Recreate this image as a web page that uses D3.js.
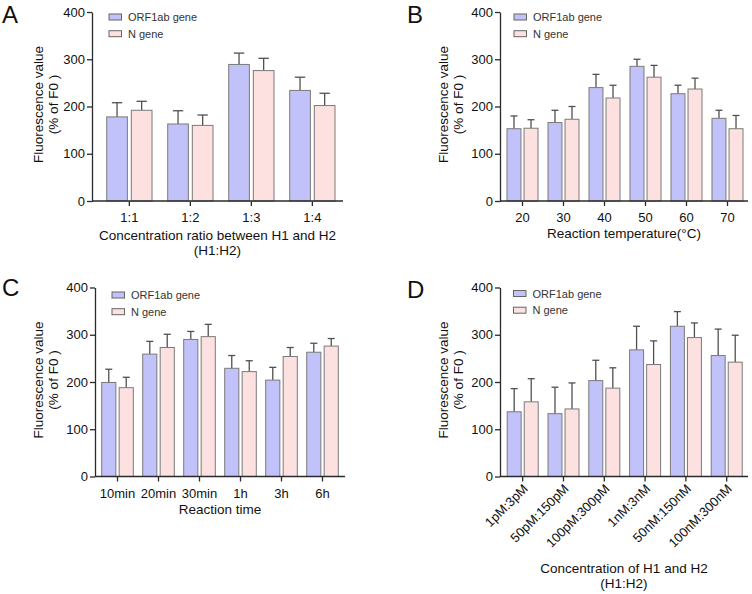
<!DOCTYPE html>
<html>
<head>
<meta charset="utf-8">
<script src="https://cdn.jsdelivr.net/npm/d3@7"></script>
<style>
  html, body { margin: 0; padding: 0; background: #fff; }
  svg { display: block; font-family: "Liberation Sans", Arial, sans-serif; }
  .axis path, .axis line { stroke: #2a2a2a; stroke-width: 1.3; }
  .axis text { font-size: 13px; fill: #111; }
  .title { font-size: 13.5px; fill: #111; }
  .legend text { font-size: 11px; fill: #333; }
  .panel-letter { font-size: 24px; fill: #111; }
</style>
</head>
<body>
<div id="chart"></div>
<script>
// series names / colours
const seriesNames = ["ORF1ab gene", "N gene"];
const seriesColors = ["#c2c2fa", "#fde1e1"];

// A - concentration ratio
const catsA = ["1:1", "1:2", "1:3", "1:4"];
const orfA = [178, 163, 289, 234];
const orfErrA = [30, 28, 24, 28];
const nA = [192, 160, 276, 202];
const nErrA = [19, 22, 26, 26];

// B - reaction temperature
const catsB = ["20", "30", "40", "50", "60", "70"];
const orfB = [153, 166, 240, 285, 227, 175];
const orfErrB = [27, 26, 28, 15, 18, 17];
const nB = [154, 173, 218, 262, 237, 153];
const nErrB = [18, 27, 27, 25, 23, 28];

// C - reaction time
const catsC = ["10min", "20min", "30min", "1h", "3h", "6h"];
const orfC = [199, 259, 290, 229, 204, 263];
const orfErrC = [28, 27, 17, 27, 27, 19];
const nC = [188, 273, 296, 222, 254, 276];
const nErrC = [22, 28, 26, 23, 19, 16];

// D - concentration of H1 and H2
const catsD = ["1pM:3pM", "50pM:150pM", "100pM:300pM", "1nM:3nM", "50nM:150nM", "100nM:300nM"];
const orfD = [137, 133, 203, 268, 318, 256];
const orfErrD = [49, 56, 43, 50, 31, 56];
const nD = [158, 143, 187, 237, 294, 242];
const nErrD = [49, 55, 43, 50, 31, 57];

const yTicks = [0, 100, 200, 300, 400];

const svg = d3.select("#chart").append("svg")
  .attr("width", 752)
  .attr("height", 594);

function drawPanel(cfg, cats, orf, orfErr, n, nErr) {
  const g = svg.append("g");

  const y = d3.scaleLinear().domain([0, 400]).range([cfg.yBot, cfg.yTop]);

  const x = d3.scaleBand()
    .domain(cats)
    .range([cfg.first, cfg.first + cfg.step * (cats.length - 1) + cfg.gw])
    .paddingInner(1 - cfg.gw / cfg.step)
    .paddingOuter(0);

  const xs = d3.scaleBand()
    .domain(seriesNames)
    .range([0, x.bandwidth()])
    .paddingInner(cfg.innerPad);

  const rows = cats.map((c, i) => ({
    cat: c,
    vals: [
      { s: seriesNames[0], v: orf[i], e: orfErr[i], c: seriesColors[0] },
      { s: seriesNames[1], v: n[i], e: nErr[i], c: seriesColors[1] }
    ]
  }));

  const grp = g.selectAll(".grp").data(rows).enter().append("g")
    .attr("transform", d => `translate(${x(d.cat)},0)`);

  const capW = xs.bandwidth() * 0.5;

  // error bars (upper only)
  grp.selectAll(".err").data(d => d.vals).enter().append("line")
    .attr("x1", d => xs(d.s) + xs.bandwidth() / 2)
    .attr("x2", d => xs(d.s) + xs.bandwidth() / 2)
    .attr("y1", d => y(d.v))
    .attr("y2", d => y(d.v + d.e))
    .attr("stroke", "#505050")
    .attr("stroke-width", 1.3);

  grp.selectAll(".cap").data(d => d.vals).enter().append("line")
    .attr("x1", d => xs(d.s) + xs.bandwidth() / 2 - capW / 2)
    .attr("x2", d => xs(d.s) + xs.bandwidth() / 2 + capW / 2)
    .attr("y1", d => y(d.v + d.e))
    .attr("y2", d => y(d.v + d.e))
    .attr("stroke", "#505050")
    .attr("stroke-width", 1.3);

  grp.selectAll("rect").data(d => d.vals).enter().append("rect")
    .attr("x", d => xs(d.s))
    .attr("width", xs.bandwidth())
    .attr("y", d => y(d.v))
    .attr("height", d => y(0) - y(d.v))
    .attr("fill", d => d.c)
    .attr("stroke", "#7a7a7a")
    .attr("stroke-width", 1);

  // y axis
  g.append("g")
    .attr("class", "axis")
    .attr("transform", `translate(${cfg.x0},0)`)
    .call(d3.axisLeft(y).tickValues(yTicks).tickSize(5).tickSizeOuter(0).tickPadding(2));

  // x axis
  const xa = g.append("g")
    .attr("class", "axis")
    .attr("transform", `translate(0,${cfg.yBot})`)
    .call(d3.axisBottom(x).tickSize(5).tickPadding(7));
  xa.select(".domain").remove();
  xa.append("line")
    .attr("x1", cfg.x0).attr("x2", cfg.x1)
    .attr("y1", 0).attr("y2", 0);

  if (cfg.rotate) {
    xa.selectAll(".tick text")
      .attr("text-anchor", "end")
      .attr("dy", null)
      .attr("x", 0)
      .attr("y", 0)
      .attr("transform", "translate(6,13) rotate(-45)");
  }

  // axis titles
  cfg.xTitle.forEach((t, i) => {
    g.append("text").attr("class", "title")
      .attr("x", (cfg.x0 + cfg.x1) / 2)
      .attr("y", cfg.xTitleY + i * 14.5)
      .attr("text-anchor", "middle")
      .text(t);
  });

  const yMid = (cfg.yTop + cfg.yBot) / 2 - 2;
  ["Fluorescence value", "(% of F0 )"].forEach((t, i) => {
    g.append("text").attr("class", "title")
      .attr("transform", `translate(${cfg.yTitleX + i * 15},${yMid}) rotate(-90)`)
      .attr("text-anchor", "middle")
      .text(t);
  });

  // legend
  const lg = g.append("g").attr("class", "legend");
  seriesNames.forEach((s, i) => {
    const ly = cfg.legY + i * 16.7;
    lg.append("rect")
      .attr("x", cfg.legX).attr("y", ly)
      .attr("width", 12.5).attr("height", 6)
      .attr("fill", seriesColors[i])
      .attr("stroke", "#666").attr("stroke-width", 1);
    lg.append("text")
      .attr("x", cfg.legX + 19).attr("y", ly + 7)
      .text(s);
  });

  g.append("text").attr("class", "panel-letter")
    .attr("x", cfg.letterX).attr("y", cfg.letterY)
    .text(cfg.letter);
}

drawPanel({
  letter: "A", letterX: 2, letterY: 23,
  x0: 92, x1: 343, yTop: 12, yBot: 201,
  first: 106.7, step: 61, gw: 45.3, innerPad: 0.16,
  xTitle: ["Concentration ratio between H1 and H2", "(H1:H2)"], xTitleY: 240,
  yTitleX: 43.3, legX: 109, legY: 14
}, catsA, orfA, orfErrA, nA, nErrA);

drawPanel({
  letter: "B", letterX: 407, letterY: 23,
  x0: 500, x1: 748, yTop: 12, yBot: 201,
  first: 507, step: 41, gw: 31, innerPad: 0.18,
  xTitle: ["Reaction temperature(\u00b0C)"], xTitleY: 238,
  yTitleX: 447.5, legX: 514, legY: 14
}, catsB, orfB, orfErrB, nB, nErrB);

drawPanel({
  letter: "C", letterX: 2, letterY: 296,
  x0: 95, x1: 345, yTop: 287.5, yBot: 476.5,
  first: 101.7, step: 41, gw: 31.6, innerPad: 0.19,
  xTitle: ["Reaction time"], xTitleY: 514,
  yTitleX: 43.3, legX: 112, legY: 292
}, catsC, orfC, orfErrC, nC, nErrC);

drawPanel({
  letter: "D", letterX: 407, letterY: 298,
  x0: 500, x1: 748, yTop: 287.5, yBot: 476.5,
  first: 507.2, step: 40.8, gw: 31, innerPad: 0.18, rotate: true,
  xTitle: ["Concentration of H1 and H2", "(H1:H2)"], xTitleY: 573,
  yTitleX: 447.5, legX: 513.5, legY: 290.5
}, catsD, orfD, orfErrD, nD, nErrD);
</script>
</body>
</html>
